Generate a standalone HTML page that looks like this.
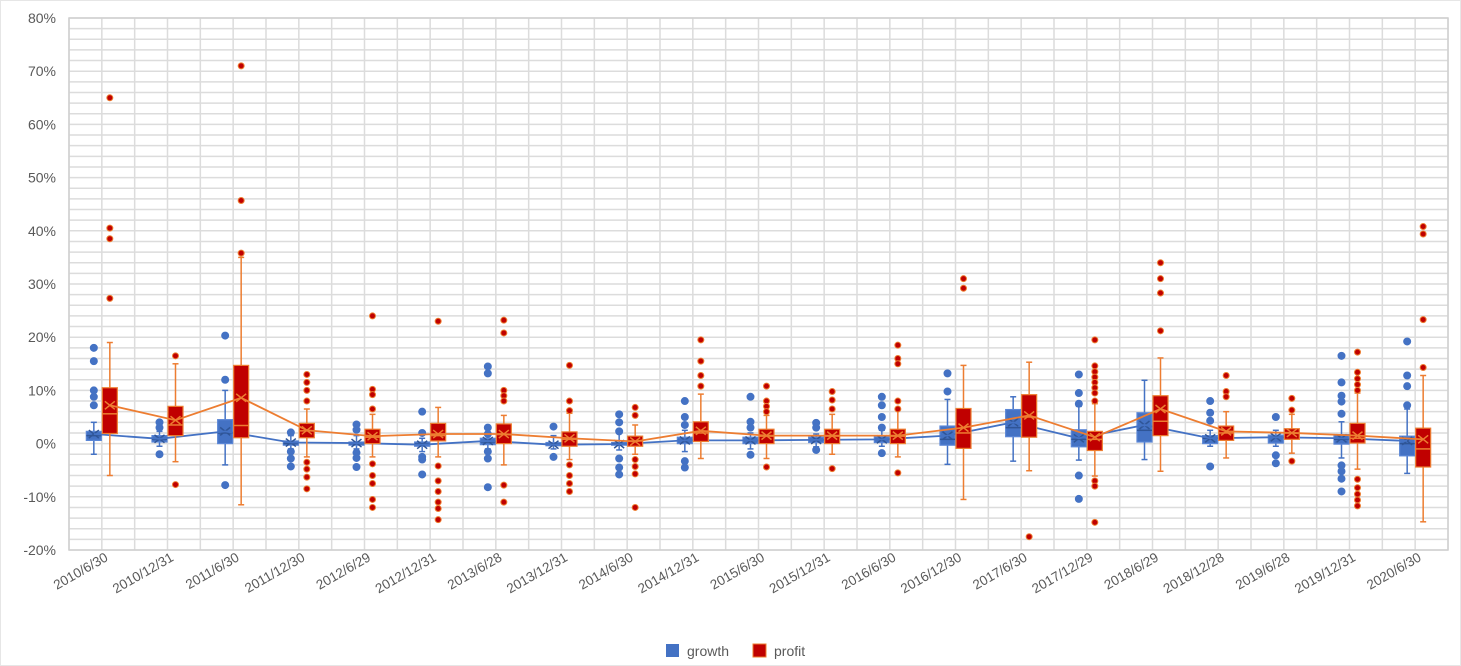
<!DOCTYPE html>
<html><head><meta charset="utf-8"><style>
body{margin:0;background:#fff;font-family:"Liberation Sans",sans-serif;}
svg{display:block}
</style></head><body>
<svg id="chart" width="1461" height="666">
<rect x="0.5" y="0.5" width="1460" height="665" fill="#fff" stroke="#e6e6e6"/>
<g id="grid"></g><g id="axes"></g><g id="series"></g>
<g>
<rect x="666" y="644" width="13" height="13" fill="#4472C4"/>
<text x="687" y="656" font-size="14" fill="#595959">growth</text>
<rect x="753" y="644" width="13" height="13" fill="#C00000" stroke="#ED7D31"/>
<text x="774" y="656" font-size="14" fill="#595959">profit</text>
</g>
</svg>
<script>
const categories=["2010/6/30","2010/12/31","2011/6/30","2011/12/30","2012/6/29","2012/12/31","2013/6/28","2013/12/31","2014/6/30","2014/12/31","2015/6/30","2015/12/31","2016/6/30","2016/12/30","2017/6/30","2017/12/29","2018/6/29","2018/12/28","2019/6/28","2019/12/31","2020/6/30"];
const yTicks=[80,70,60,50,40,30,20,10,0,-10,-20];
// growth: low whisker, q1, median, q3, high whisker, mean
const gLow=[-2,-0.5,-4,-1,-1,-1.5,-1,-1,-1.2,-1.5,-1,-0.6,-0.5,-3.9,-3.3,-3.1,-3,-0.5,-0.5,-2.7,-5.6];
const gQ1=[0.6,0.3,0,-0.3,-0.3,-0.5,-0.2,-0.4,-0.3,0,0,0.2,0.2,-0.3,1.3,-0.6,0.3,0,0.1,-0.1,-2.3];
const gMed=[1.5,0.8,2,0,0,0,0.3,-0.1,0,0.6,0.6,0.7,0.8,0.8,3,0.8,2.5,1,1.2,0.8,0];
const gQ3=[2.3,1.5,4.5,0.5,0.3,0.3,1,0.2,0.2,1.2,1.2,1.2,1.3,3.3,6.4,2.6,5.8,1.5,1.6,1.7,1.4];
const gHigh=[4,2.3,10,1.5,1.5,1,1.5,1.5,2,2.5,2,1.8,2.5,8.3,8.8,7,11.9,2.5,2.5,4.1,6.5];
const gMean=[1.8,0.9,2.3,0.2,0.1,-0.2,0.5,-0.2,-0.1,0.6,0.6,0.7,0.8,1.5,4,1,3.5,1,1.2,1,0.5];
const gOut=[[18,15.5,10,8.8,7.2],[4,3,-2],[12,20.3,-7.8],[2.1,-1.5,-2.8,-4.3],[3.6,2.6,-1.7,-2.7,-4.4],[6,2,-2.5,-3,-5.8],[14.5,13.2,3,1.8,-1.5,-2.8,-8.2],[3.2,-2.5],[5.5,4,2.3,-2.8,-4.5,-5.8],[8,5,3.5,-3.3,-4.5],[8.8,4.1,3,-2.1],[3.9,3,-1.2],[8.8,7.2,5,3,-1.8],[13.2,9.8],[],[13,9.5,7.5,-6,-10.4],[],[8,5.8,4.3,-4.3],[5,-2.2,-3.7],[16.5,11.5,9,7.9,5.6,-4.1,-5.2,-6.6,-9],[19.2,12.8,10.8,7.2]];
// profit
const pLow=[-6,-3.4,-11.5,-2.5,-2.5,-2.5,-4,-3,-2,-2.8,-2.8,-2,-2.5,-10.5,-5.1,-6.1,-5.2,-2.7,-1.8,-4.8,-14.7];
const pQ1=[1.9,1.5,1.1,1.1,0,0.5,0,-0.5,-0.5,0.4,0,0,0,-0.9,1.2,-1.3,1.5,0.6,0.8,0.1,-4.4];
const pMed=[5.6,3.5,3.4,2.4,1.2,1.5,1.7,0.8,0.5,2,1.4,1.4,1.4,2,5,0.8,4.2,2,2,1,-1];
const pQ3=[10.5,7,14.7,3.8,2.7,3.8,3.7,2.2,1.4,4.1,2.7,2.7,2.7,6.6,9.2,2.3,9,3.3,2.8,3.8,2.9];
const pHigh=[19,15,35,6.5,5.5,6.8,5.3,5.7,3.5,9.3,5.3,5.5,6.5,14.7,15.3,7.5,16.1,6,5.5,9.5,12.8];
const pMean=[7.2,4.4,8.6,2.5,1.4,1.8,1.8,1,0.4,2.4,1.5,1.5,1.5,3,5.3,1.2,6.5,2.3,2,1.5,0.8];
const pOut=[[65,40.5,38.5,27.3],[16.5,-7.7],[71,45.7,35.8],[13,11.5,10,8,-3.5,-4.8,-6.3,-8.5],[24,10.2,9.2,6.5,-3.8,-6,-7.5,-10.5,-12],[23,-4.2,-7,-9,-11,-12.2,-14.3],[23.2,20.8,10,9,8,-7.8,-11],[14.7,8,6.2,-4,-6,-7.5,-9],[6.8,5.3,-3,-4.3,-5.7,-12],[19.5,15.5,12.8,10.8],[10.8,8,7,6,-4.4],[9.8,8.2,6.5,-4.7],[18.5,16,15,8,6.5,-5.5],[31,29.2],[-17.5],[19.5,14.6,13.5,12.5,11.5,10.5,9.5,8,-7,-8,-14.8],[34,31,28.3,21.2],[12.8,9.8,8.8],[8.5,6.3,-3.3],[17.2,13.4,12.2,11.1,10,-6.7,-8.3,-9.5,-10.6,-11.7],[40.8,39.4,23.3,14.3]];

const NS="http://www.w3.org/2000/svg";
const L=69,R=1448,T=18,B=550,VMAX=80,VMIN=-20;
const y=v=>T+(VMAX-v)/(VMAX-VMIN)*(B-T);
const bw=(R-L)/categories.length;
const xc=i=>L+bw*(i+0.5);
function mk(tag,attrs,parent){const e=document.createElementNS(NS,tag);for(const k in attrs)e.setAttribute(k,attrs[k]);parent.appendChild(e);return e;}
const grid=document.getElementById('grid'),axes=document.getElementById('axes'),ser=document.getElementById('series');
for(let v=VMIN;v<=VMAX;v+=2){
  const l=mk('line',{x1:L,x2:R,y1:y(v),y2:y(v),stroke:'#dcdcdc','stroke-width':1.5},grid);
  
  
}
for(let k=0;k<=categories.length*2;k++){
  const xx=L+bw/2*k;
  const l=mk('line',{x1:xx,x2:xx,y1:T,y2:B,stroke:'#dcdcdc','stroke-width':1.5},grid);
  
  
}
yTicks.forEach(v=>{
  const t=mk('text',{x:56,y:y(v)+5,'text-anchor':'end','font-size':14,fill:'#595959'},axes);
  t.textContent=v+'%';
  
  
});
categories.forEach((c,i)=>{
  const xx=xc(i)+7,yy=560;
  const t=mk('text',{x:xx,y:yy,'text-anchor':'end','font-size':13.5,fill:'#595959',transform:`rotate(-30 ${xx} ${yy})`},axes);
  t.textContent=c;
  
  
});
function drawSeries(name,off,low,q1,med,q3,high,mean,outs,fill,stroke,wh,medc,ptFill,ptStroke,pr,lineC){
  const g=mk('g',{},ser);
  
  
  categories.forEach((c,i)=>{
    const cx=xc(i)+off,w=15;
    const wl=mk('line',{x1:cx,x2:cx,y1:y(high[i]),y2:y(low[i]),stroke:wh,'stroke-width':1.5},g);
    
    
    [high[i],low[i]].forEach(v=>{mk('line',{x1:cx-3,x2:cx+3,y1:y(v),y2:y(v),stroke:wh,'stroke-width':1.5},g);});
    const b=mk('rect',{x:cx-w/2,y:y(q3[i]),width:w,height:Math.max(1,y(q1[i])-y(q3[i])),fill:fill,stroke:stroke,'stroke-width':1.2},g);
    
    
    mk('line',{x1:cx-w/2,x2:cx+w/2,y1:y(med[i]),y2:y(med[i]),stroke:medc,'stroke-width':1.5},g);
    const m=y(mean[i]);
    mk('path',{d:`M${cx-5} ${m-4}L${cx+5} ${m+4}M${cx-5} ${m+4}L${cx+5} ${m-4}`,stroke:medc,'stroke-width':1.5,fill:'none'},g);
    outs[i].forEach(v=>{
      const p=mk('circle',{cx:cx,cy:y(v),r:pr,fill:ptFill,stroke:ptStroke,'stroke-width':1},g);
      
      
    });
  });
  const pts=categories.map((c,i)=>`${xc(i)+off},${y(mean[i])}`).join(' ');
  const pl=mk('polyline',{points:pts,fill:'none',stroke:lineC,'stroke-width':1.8},g);
  
  
}
drawSeries('growth',-8,gLow,gQ1,gMed,gQ3,gHigh,gMean,gOut,'#4472C4','#5a86d6','#4472C4','#2f5597','#4472C4','#4472C4',3.5,'#4472C4');
drawSeries('profit',8,pLow,pQ1,pMed,pQ3,pHigh,pMean,pOut,'#C00000','#ED7D31','#ED7D31','#ED7D31','#C00000','#ED7D31',3,'#ED7D31');
mk('rect',{x:L,y:T,width:R-L,height:B-T,fill:'none',stroke:'#d0d0d0','stroke-width':1.5},grid);
</script>
</body></html>
